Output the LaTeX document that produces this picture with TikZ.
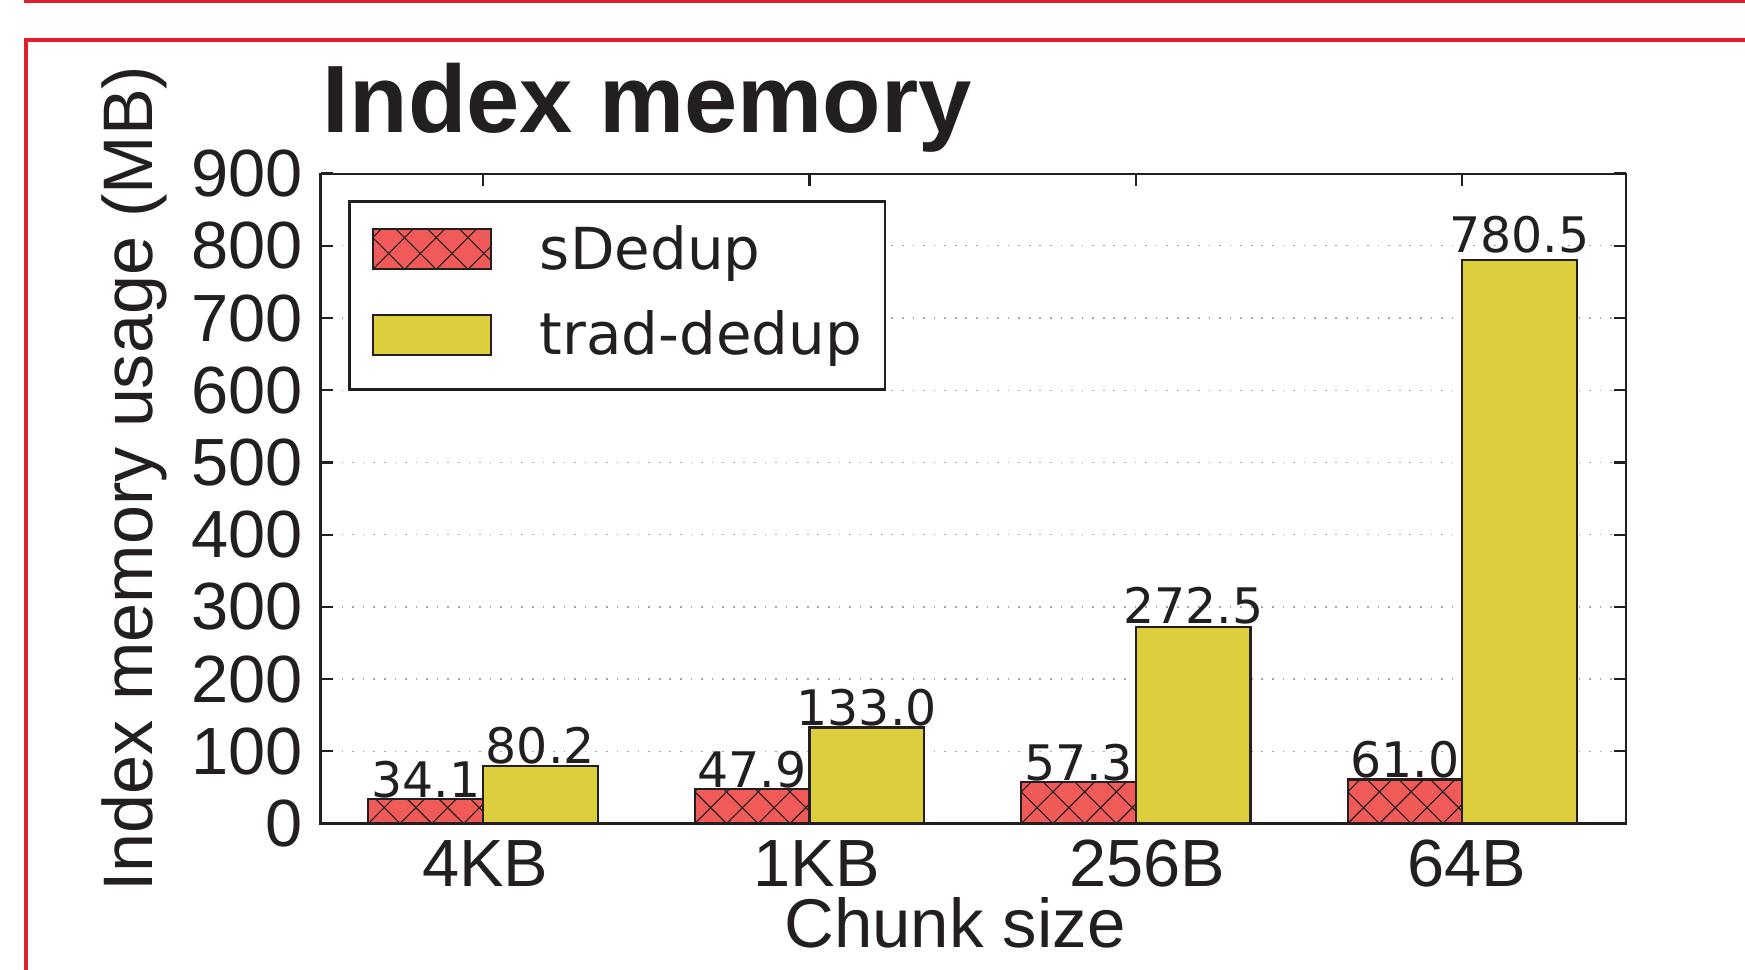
\documentclass[tikz,border=0pt]{standalone}
\usepackage{fontspec}
\setmainfont{Liberation Sans}
\newfontfamily\valfont{DejaVu Sans}

\definecolor{framered}{RGB}{226,30,44}
\definecolor{barred}{RGB}{240,90,88}
\definecolor{baryellow}{RGB}{220,206,60}
\definecolor{inkcol}{RGB}{35,31,32}

% штриховка прямоугольника: #1 левый x, #2 нижний y, #3 правый x, #4 верхний y
\newcommand\hatchrect[4]{%
    \begin{scope}
        \clip (#1,#2) rectangle (#3,#4);
        \foreach \k in {-3,...,7} {
            \draw[hatchline] ({#1+\k*28.5},#2) -- ++(80,-80);
            \draw[hatchline] ({#1+\k*28.5},#2) -- ++(-80,-80);
        }
    \end{scope}}

\begin{document}
\begin{tikzpicture}[
        x=1pt, y=-1pt, % координаты в пикселях, ось y вниз
        redframe/.style = {draw=framered, line width=3pt},
        axisframe/.style = {draw=inkcol, line width=2pt},
        gridline/.style = {draw=gray!70, line width=1.2pt, dash pattern=on 1.5pt off 8pt},
        hatchline/.style = {draw=inkcol, line width=1pt},
        sbar/.style = {fill=barred},
        tbar/.style = {fill=baryellow, draw=inkcol, line width=2pt},
        ticklab/.style = {font=\fontsize{60}{60}\selectfont, text=inkcol, inner sep=0pt},
        vallab/.style = {font=\valfont\fontsize{44}{44}\selectfont, text=inkcol, inner sep=0pt, anchor=base},
        leglab/.style = {font=\valfont\fontsize{52}{52}\selectfont, text=inkcol, inner sep=0pt, anchor=west},
    ]
    \useasboundingbox (0,0) rectangle (1568,871);

    % красные рамки
    \draw[redframe] (22,1.5) -- (1570,1.5);
    \draw[redframe] (1570,36) -- (23.5,36) -- (23.5,873);

    % сетка
    \foreach \v in {100,200,...,800}
        \draw[gridline] (288,{740-\v*0.64889}) -- (1461,{740-\v*0.64889});

    % столбцы
    \foreach \i/\s/\t in {0/34.1/80.2, 1/47.9/133.0, 2/57.3/272.5, 3/61.0/780.5} {
        \pgfmathsetmacro\grpx{434+293.33*\i}
        \pgfmathsetmacro\topS{740-\s*0.64889}
        \pgfmathsetmacro\topT{740-\t*0.64889}
        \fill[sbar] ({\grpx-103},740) rectangle (\grpx,\topS);
        \hatchrect{\grpx-103}{740}{\grpx}{\topS}
        \draw[axisframe] ({\grpx-103},740) rectangle (\grpx,\topS);
        \draw[tbar] (\grpx,740) rectangle ({\grpx+103},\topT);
        \node[vallab] (sval\i) at ({\grpx-51.5},{\topS-1-\s*0.0078}) {\s};
        \node[vallab] (tval\i) at ({\grpx+51.5},{\topT-1-\t*0.0078}) {\t};
        \draw[axisframe] (\grpx,156) -- (\grpx,167);
    }

    % оси
    \draw[axisframe] (288,156) rectangle (1461,740);
    \foreach \v in {0,100,...,900} {
        \draw[axisframe] (288,{740-\v*0.64889}) -- (299,{740-\v*0.64889});
        \draw[axisframe] (1461,{740-\v*0.64889}) -- (1450,{740-\v*0.64889});
        \node[ticklab, anchor=east] (ytick\v) at (272,{740-\v*0.64889}) {\v};
    }

    \foreach \x/\lab in {436/4KB, 734/1KB, 1031/256B, 1318/64B}
        \node[ticklab, anchor=base] (xtick\lab) at (\x,797) {\lab};

    \node[ticklab, anchor=base, font=\fontsize{62}{62}\selectfont] (xlabel) at (858,851) {Chunk size};
    \node[ticklab, anchor=base, rotate=90, font=\fontsize{63}{63}\selectfont] (ylabel) at (137,430) {Index memory usage (MB)};
    \node[ticklab, anchor=base west, font=\bfseries\fontsize{86}{86}\selectfont] (title) at (290,119) {Index memory};

    % легенда
    \draw[axisframe, fill=white] (314,181) rectangle (795,350);
    \fill[sbar] (335,242) rectangle (441,206);
    \hatchrect{335}{242}{441}{206}
    \draw[axisframe] (335,242) rectangle (441,206);
    \draw[tbar] (335,283) rectangle (441,319);
    \node[leglab] (legs) at (485,228) {sDedup};
    \node[leglab] (legt) at (485,304) {trad-dedup};
\end{tikzpicture}
\end{document}
